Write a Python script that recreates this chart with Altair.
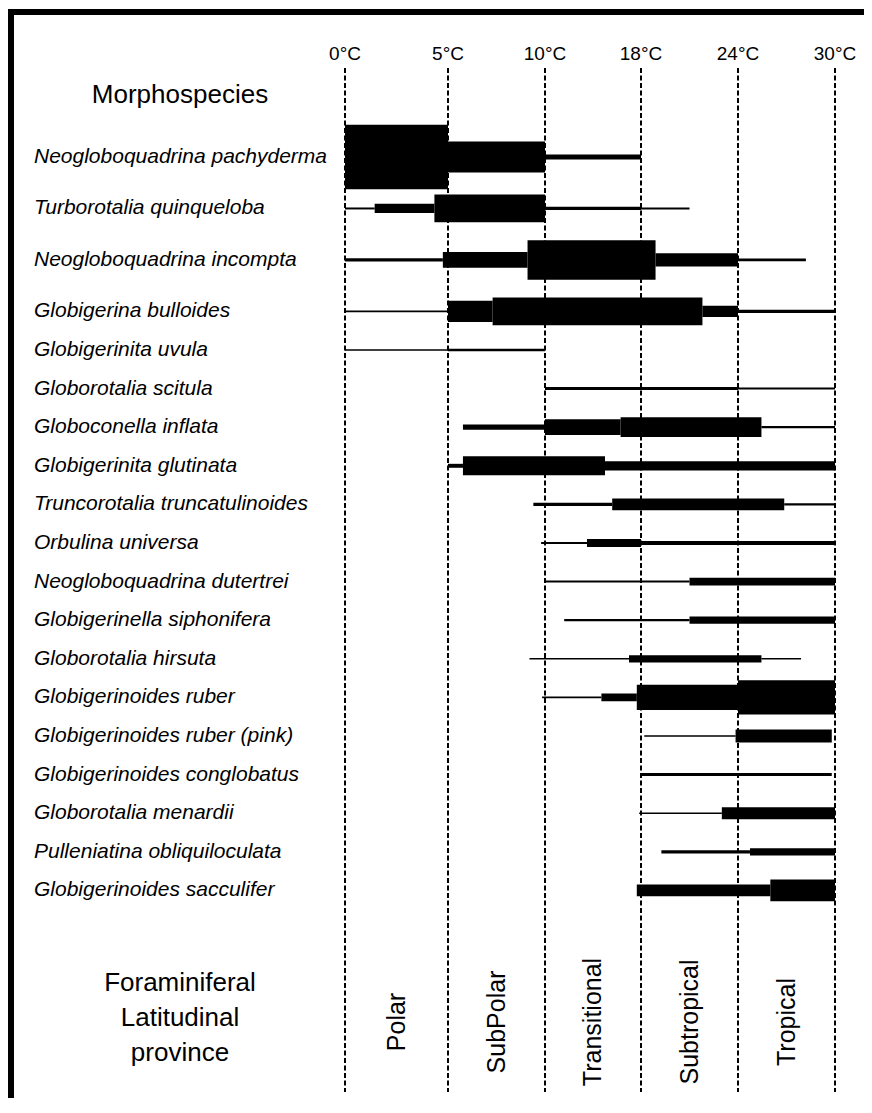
import altair as alt
import pandas as pd

# ---------------- data ----------------
species = [
    "Neogloboquadrina pachyderma",
    "Turborotalia quinqueloba",
    "Neogloboquadrina incompta",
    "Globigerina bulloides",
    "Globigerinita uvula",
    "Globorotalia scitula",
    "Globoconella inflata",
    "Globigerinita glutinata",
    "Truncorotalia truncatulinoides",
    "Orbulina universa",
    "Neogloboquadrina dutertrei",
    "Globigerinella siphonifera",
    "Globorotalia hirsuta",
    "Globigerinoides ruber",
    "Globigerinoides ruber (pink)",
    "Globigerinoides conglobatus",
    "Globorotalia menardii",
    "Pulleniatina obliquiloculata",
    "Globigerinoides sacculifer",
]

# temperature ranges (°C) per species: segment starts, ends and relative abundance (0-100)
seg_start = [
    [0, 5, 10],
    [0, 1.44, 4.34, 10, 18],
    [0, 4.75, 9.1, 18.9, 24],
    [0, 5, 7.3, 21.8, 24],
    [0, 5],
    [10, 24],
    [5.77, 10, 16.3, 25.45],
    [5, 5.77, 15],
    [9.4, 15.6, 26.86],
    [9.8, 13.5, 18],
    [10, 21],
    [11.6, 21],
    [9.2, 17, 25.45],
    [9.85, 14.7, 17.65, 24],
    [18.2, 23.85],
    [18],
    [17.85, 23],
    [19.26, 24.74],
    [17.65, 26],
]
seg_end = [
    [5, 10, 18],
    [1.44, 4.34, 10, 18, 21],
    [4.75, 9.1, 18.9, 24, 28.2],
    [5, 7.3, 21.8, 24, 30],
    [5, 10],
    [24, 30],
    [10, 16.3, 25.45, 30],
    [5.77, 15, 30],
    [15.6, 26.86, 30],
    [13.5, 18, 30],
    [21, 30],
    [21, 30],
    [17, 25.45, 27.9],
    [14.7, 17.65, 24, 30],
    [23.85, 29.8],
    [29.8],
    [23, 30],
    [24.74, 30],
    [26, 30],
]
seg_abund = [
    [98, 47, 7.5],
    [3, 14, 42, 5, 3],
    [5, 24, 60, 20, 4],
    [2.5, 32, 42, 17, 5],
    [2.3, 4],
    [4.5, 3],
    [8, 24, 30, 3.5],
    [6, 29, 14],
    [5, 18, 3.5],
    [3, 12, 6],
    [3, 12],
    [3.5, 11],
    [2.5, 11, 2.5],
    [2.5, 12, 38, 52],
    [2.3, 20],
    [4.5],
    [2.3, 18],
    [5, 11],
    [18, 33],
]

boundary_temps = [0, 5, 10, 18, 24, 30]
boundary_labels = ["0°C", "5°C", "10°C", "18°C", "24°C", "30°C"]

provinces = ["Polar", "SubPolar", "Transitional", "Subtropical", "Tropical"]

# ---------------- layout helpers ----------------
W, H = 856, 1090
FONT = "Liberation Sans"

# row slots: the first four (abundant) rows get more room
slots = [i * 4 / 3 for i in range(4)] + [i + 1 for i in range(4, len(species))]

rows = []
for sp, sl, ss, ee, aa in zip(species, slots, seg_start, seg_end, seg_abund):
    for s, e, a in zip(ss, ee, aa):
        rows.append({"species": sp, "slot": sl, "start": s, "end": e, "abund": a})
seg_df = pd.DataFrame(rows)
lab_df = pd.DataFrame({"species": species, "slot": slots})
bnd_df = pd.DataFrame({"t": boundary_temps, "label": boundary_labels})
prov_df = pd.DataFrame({
    "province": provinces,
    "lo": boundary_temps[:-1],
    "hi": boundary_temps[1:],
})

xscale = alt.Scale(domain=boundary_temps, range=[337, 440, 537, 633, 730, 827], nice=False, zero=False)
yscale = alt.Scale(domain=[0, 19], range=[149, 882.4], nice=False, zero=False)

# ---------------- layers ----------------
dashes = alt.Chart(bnd_df).mark_rule(color="black", strokeWidth=2, strokeDash=[5, 2.5]).encode(
    x=alt.X("t:Q", scale=xscale, axis=None),
    y=alt.value(60),
    y2=alt.value(1084),
)

temp_text = alt.Chart(bnd_df).mark_text(
    font=FONT, fontSize=19, color="black", align="center", baseline="middle"
).encode(
    x=alt.X("t:Q", scale=xscale, axis=None),
    y=alt.value(46),
    text="label:N",
)

segs = alt.Chart(seg_df).mark_rule(color="black", strokeCap="butt").encode(
    x=alt.X("start:Q", scale=xscale, axis=None),
    x2="end:Q",
    y=alt.Y("slot:Q", scale=yscale, axis=None),
    strokeWidth=alt.StrokeWidth("abund:Q", scale=alt.Scale(domain=[0, 100], range=[0, 66]), legend=None),
)

labels = alt.Chart(lab_df).mark_text(
    font=FONT, fontSize=21, fontStyle="italic", color="black", align="left", baseline="middle"
).encode(
    x=alt.value(26),
    y=alt.Y("slot:Q", scale=yscale, axis=None),
    text="species:N",
)

prov_text = alt.Chart(prov_df).transform_calculate(
    mid="(datum.lo + datum.hi) / 2"
).mark_text(
    font=FONT, fontSize=25, color="black", align="center", baseline="middle", angle=270
).encode(
    x=alt.X("mid:Q", scale=xscale, axis=None),
    y=alt.value(1014),
    text="province:N",
)

one = pd.DataFrame({"k": [0]})
morpho = alt.Chart(one).mark_text(
    font=FONT, fontSize=26, color="black", align="center", baseline="middle"
).encode(x=alt.value(172), y=alt.value(87), text=alt.value("Morphospecies"))

prov_title = alt.Chart(one).mark_text(
    font=FONT, fontSize=26, color="black", align="center", baseline="middle", lineHeight=35
).encode(
    x=alt.value(172), y=alt.value(975),
    text=alt.value(["Foraminiferal", "Latitudinal", "province"]),
)

frame_top = alt.Chart(one).mark_rule(color="black", strokeWidth=6, strokeCap="butt").encode(
    x=alt.value(0), x2=alt.value(W), y=alt.value(4)
)
frame_left = alt.Chart(one).mark_rule(color="black", strokeWidth=6, strokeCap="butt").encode(
    x=alt.value(3), y=alt.value(1), y2=alt.value(H)
)

chart = alt.layer(
    dashes, temp_text, segs, labels, prov_text, morpho, prov_title, frame_top, frame_left
).properties(
    width=W, height=H, padding=0, autosize=alt.AutoSizeParams(type="none"), background="white"
).configure_view(stroke=None)

chart.save("out.html", embed_options={"renderer": "svg", "actions": False})
